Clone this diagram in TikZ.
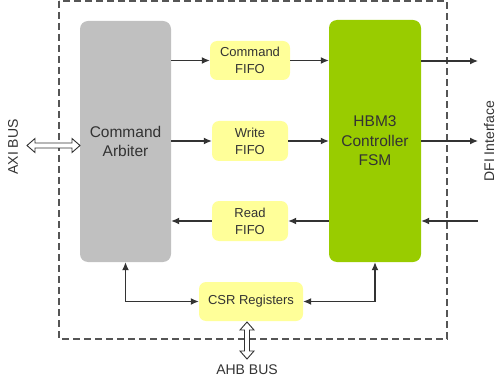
\documentclass[tikz,border=0pt]{standalone}
\usepackage{fontspec}
\setmainfont{Liberation Sans}
\usetikzlibrary{arrows.meta}
\definecolor{grayfill}{HTML}{C0C0C0}
\definecolor{greenfill}{HTML}{99CC00}
\definecolor{yellowfill}{HTML}{FFFF99}
\definecolor{txt}{HTML}{333333}
\definecolor{dashc}{HTML}{555555}
\tikzset{
  bigbox/.style={rounded corners=8pt, draw=none, align=center, text=txt,
    font=\fontsize{15.5}{19.5}\selectfont},
  fifobox/.style={rounded corners=7pt, fill=yellowfill, draw=none, align=center, text=txt,
    font=\fontsize{13}{17}\selectfont},
  conn/.style={draw=txt, line width=1.2pt, -{Latex[length=8pt,width=7pt]}},
  conn2/.style={draw=txt, line width=1.2pt, {Latex[length=8pt,width=7pt]}-{Latex[length=8pt,width=7pt]}},
  hollow/.style={draw=txt, line width=0.9pt, fill=white},
  lbl/.style={text=txt, font=\fontsize{14}{17}\selectfont}
}
\begin{document}
\begin{tikzpicture}[x=1pt,y=-1pt]
\useasboundingbox (0,0) rectangle (500,382);
% outer dashed boundary
\draw[dashc, line width=1.1pt, dash pattern=on 7pt off 4pt] (59,1) rectangle (447,339);

\node[bigbox, fill=grayfill, minimum width=91pt, minimum height=241pt] (arb) at (125.5,141.5) {Command\\Arbiter};
\node[bigbox, fill=greenfill, minimum width=92pt, minimum height=242pt] (fsm) at (375,141) {HBM3\\Controller\\FSM};
\node[fifobox, minimum width=80pt, minimum height=39pt] (cf) at (250,60.5) {Command\\FIFO};
\node[fifobox, minimum width=76pt, minimum height=40pt] (wf) at (250,141) {Write\\FIFO};
\node[fifobox, minimum width=76pt, minimum height=40pt] (rf) at (250,221) {Read\\FIFO};
\node[fifobox, minimum width=104pt, minimum height=39pt] (csr) at (251,301.5) {CSR Registers};

\coordinate (o1) at (478,61);
\coordinate (o2) at (478,141);
\coordinate (i1) at (478,221);

\draw[conn] (cf.west -| arb.east) -- (cf.west);
\draw[conn] (cf.east) -- (cf.east -| fsm.west);
\draw[conn] (wf.west -| arb.east) -- (wf.west);
\draw[conn] (wf.east) -- (wf.east -| fsm.west);
\draw[conn] (rf.west) -- (rf.west -| arb.east);
\draw[conn] (rf.east -| fsm.west) -- (rf.east);
\draw[conn] (o1 -| fsm.east) -- (o1);
\draw[conn] (o2 -| fsm.east) -- (o2);
\draw[conn] (i1) -- (i1 -| fsm.east);
\draw[conn2] (arb.south) |- (csr.west);
\draw[conn2] (fsm.south) |- (csr.east);

% AXI bus hollow double arrow
\draw[hollow] (27,145.5) -- (35,138.5) -- (35,143) -- (72,143) -- (72,138.5) -- (80,145.5)
  -- (72,152.5) -- (72,148) -- (35,148) -- (35,152.5) -- cycle;
% AHB bus hollow double arrow
\draw[hollow] (247,322) -- (254,330) -- (249.5,330) -- (249.5,351) -- (254,351) -- (247,359)
  -- (240,351) -- (244.5,351) -- (244.5,330) -- (240,330) -- cycle;

\node[lbl, rotate=90] (axi) at (13,147) {AXI BUS};
\node[lbl] (ahb) at (247,370) {AHB BUS};
\node[lbl, rotate=90] (dfi) at (489,141) {DFI Interface};
\end{tikzpicture}
\end{document}
